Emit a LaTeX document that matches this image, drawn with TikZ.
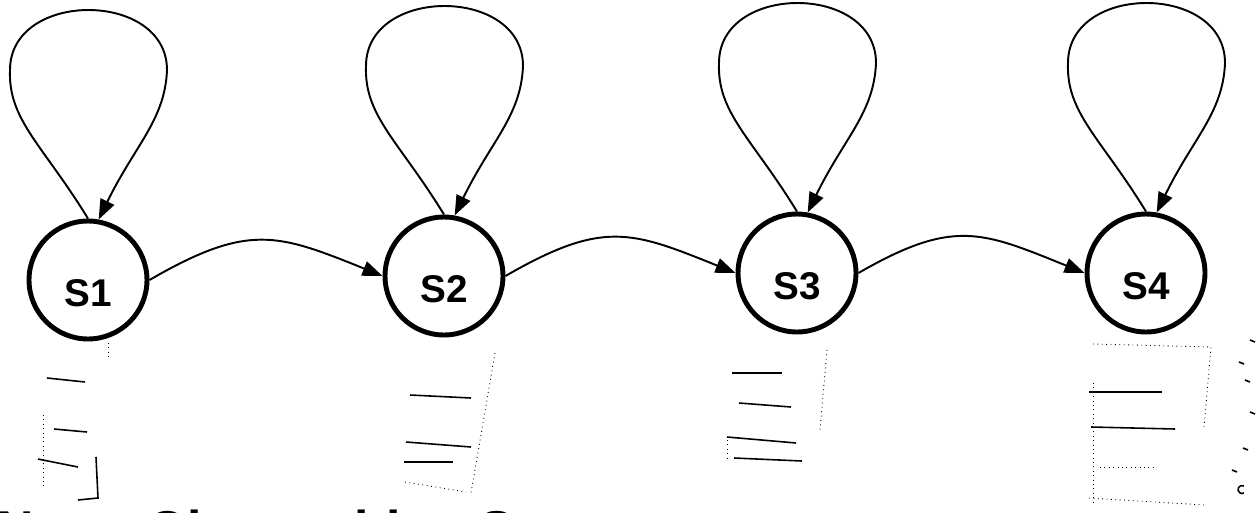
\documentclass[tikz,border=0pt]{standalone}
\usepackage{fontspec}
\setmainfont{Liberation Sans}
\usetikzlibrary{arrows.meta}

\tikzset{
  state/.style={circle, draw, line width=2.8pt, minimum size=2.36cm, inner sep=0pt},
  statelabel/.style={font=\bfseries\fontsize{22}{22}\selectfont, yshift=-0.26cm},
  edge/.style={line width=1.1pt, -{Triangle[length=0.4cm,width=0.3cm]}},
  scribble/.style={line width=0.9pt},
  faint/.style={line width=0.5pt, dotted},
}

\begin{document}
\begin{tikzpicture}[x=0.02cm, y=0.02cm]
    \useasboundingbox (0,0) rectangle (1257,512);
    \clip (0,0) rectangle (1257,512);

    % Vertices
    \node[state, label={[statelabel]center:S1}] (s1) at (88,232) {};
    \node[state, label={[statelabel]center:S2}] (s2) at (444,236) {};
    \node[state, label={[statelabel]center:S3}] (s3) at (797,239) {};
    \node[state, label={[statelabel]center:S4}] (s4) at (1146,239) {};

    % Edges
    \draw[edge] (s1.east) to[out=30, in=158, looseness=1.25] (s2.west);
    \draw[edge] (s2.east) to[out=30, in=158, looseness=1.25] (s3.west);
    \draw[edge] (s3.east) to[out=30, in=158, looseness=1.25] (s4.west);

    % Loops
    \foreach \i in {1,...,4} {
      \begin{scope}[shift={(s\i.center)}]
        \draw[edge] (s\i.90) .. controls (-45,135) and (-80,160) .. (-78,210)
          .. controls (-78,290) and (79,290) .. (79,210)
          .. controls (77,160) and (47,135) .. (s\i.80);
      \end{scope}
    }

    % erased pencil marks
    \draw[faint] (108,169) -- (108,154);
    \draw[scribble] (47,134) -- (85,130);
    \draw[scribble] (54,83) -- (87,80);
    \draw[scribble] (38,53) -- (78,45);
    \draw[faint] (43,97) -- (43,25);
    \draw[scribble] (96,55) -- (98,14) -- (78,12);

    \draw[faint] (495,159) -- (471,19);
    \draw[scribble] (410,117) -- (471,114);
    \draw[scribble] (406,70) -- (471,65);
    \draw[scribble] (404,50) -- (453,50);
    \draw[faint] (405,30) -- (466,20);

    \draw[faint] (827,162) -- (820,82);
    \draw[scribble] (732,139) -- (782,139);
    \draw[scribble] (739,109) -- (791,105);
    \draw[scribble] (727,75) -- (796,69);
    \draw[scribble] (734,54) -- (802,51);
    \draw[faint] (727,72) -- (727,52);

    \draw[faint] (1093,168) -- (1211,165) -- (1204,85);
    \draw[faint] (1093,129) -- (1093,9);
    \draw[scribble] (1089,120) -- (1162,120);
    \draw[scribble] (1091,85) -- (1175,83);
    \draw[faint] (1100,45) -- (1155,45);
    \draw[faint] (1089,14) -- (1204,7);

    \foreach \px/\py in {1250/172, 1239/150, 1245/132, 1250/100, 1243/64, 1232/42}
      \draw[scribble] (\px,\py) -- ++(5,-2);
    \draw[scribble] (1244,26) arc (60:300:4);

    % caption, cut off by the page edge
    \node[anchor=base west, inner sep=0pt, font=\bfseries\fontsize{29.5}{30}\selectfont] (caption) at (-4,-35) {Non\hspace{1cm}Observable\hspace{1cm}Sequence};
\end{tikzpicture}
\end{document}
